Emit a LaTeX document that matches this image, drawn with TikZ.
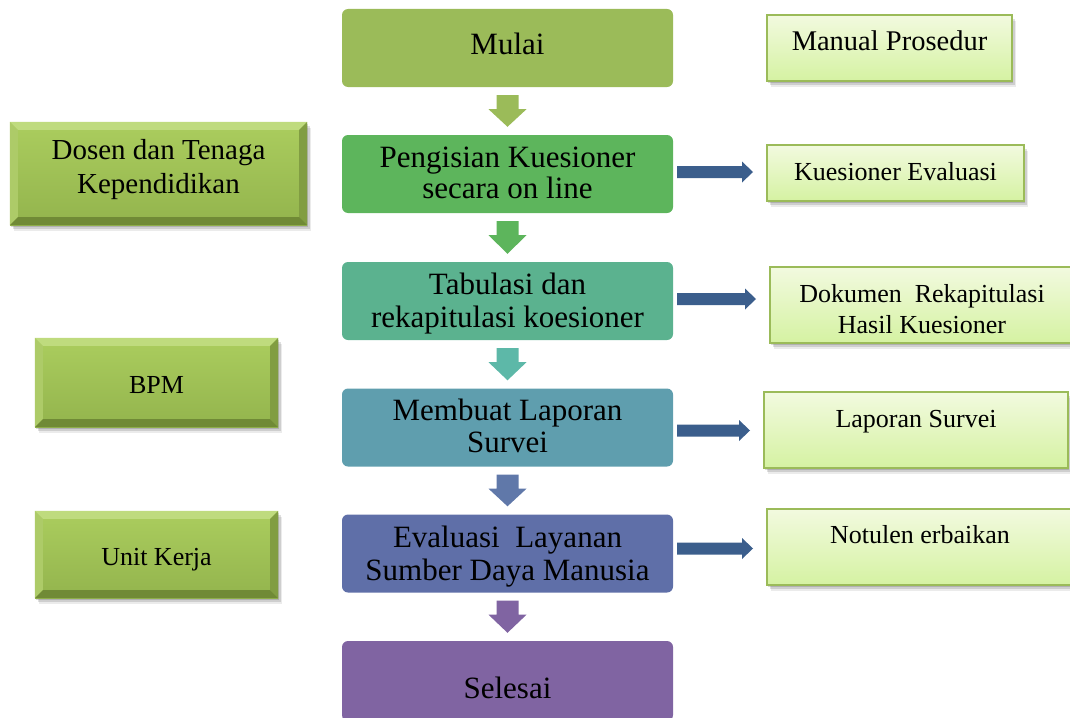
\documentclass[tikz,border=0pt]{standalone}
\usepackage{fontspec}
\setmainfont{Liberation Serif}
\usetikzlibrary{calc,shadows}

\definecolor{cMulai}{HTML}{9BBB59}
\definecolor{cPeng}{HTML}{5DB55C}
\definecolor{cTab}{HTML}{5BB28F}
\definecolor{cMem}{HTML}{5F9EAE}
\definecolor{cEva}{HTML}{5F6FA8}
\definecolor{cSel}{HTML}{8064A2}
\definecolor{cArrTab}{HTML}{5DB8A8}
\definecolor{cArrMem}{HTML}{6078A9}
\definecolor{arrBlue}{HTML}{3B5E8C}
\definecolor{docTop}{HTML}{F2FADF}
\definecolor{docBot}{HTML}{D5F2A2}
\definecolor{docLine}{HTML}{9BBB59}
\definecolor{bevTop}{HTML}{BFDB7E}
\definecolor{bevLeft}{HTML}{ADCB68}
\definecolor{bevRight}{HTML}{819D42}
\definecolor{bevBot}{HTML}{708A36}
\definecolor{faceTop}{HTML}{ABCD5E}
\definecolor{faceBot}{HTML}{93B44D}

\newcommand\myfs[1]{\fontsize{#1}{#1}\selectfont}

% down block arrow: colour, from node, to node
\newcommand\downblock[3]{%
  \fill[#1] let \p1=(#2.south), \p2=(#3.north) in
    (\x1-11pt,\y1-8pt) -- (\x1+11pt,\y1-8pt) -- (\x1+11pt,\y1-22pt) --
    (\x1+19pt,\y1-22pt) -- (\x1,\y2+8pt) -- (\x1-19pt,\y1-22pt) --
    (\x1-11pt,\y1-22pt) -- cycle;}
% right block arrow: from node, to node, vertical offset
\newcommand\rightblock[3]{%
  \fill[arrBlue] let \p1=($(#1.east)+(4,#3)$), \p2=(#2.west) in
    (\x1,\y1+6pt) -- (\x2-24pt,\y1+6pt) -- (\x2-24pt,\y1+10.5pt) --
    (\x2-13pt,\y1) -- (\x2-24pt,\y1-10.5pt) -- (\x2-24pt,\y1-6pt) --
    (\x1,\y1-6pt) -- cycle;}
% bevel edges of a left box
\newcommand\bevelize[1]{%
  \fill[bevTop] (#1.north west) -- (#1.north east) -- ($(#1.north east)+(-8,8)$) -- ($(#1.north west)+(8,8)$) -- cycle;
  \fill[bevLeft] (#1.north west) -- ($(#1.north west)+(8,8)$) -- ($(#1.south west)+(8,-8)$) -- (#1.south west) -- cycle;
  \fill[bevRight] (#1.north east) -- ($(#1.north east)+(-8,8)$) -- ($(#1.south east)+(-8,-8)$) -- (#1.south east) -- cycle;
  \fill[bevBot] (#1.south west) -- ($(#1.south west)+(8,-8)$) -- ($(#1.south east)+(-8,-8)$) -- (#1.south east) -- cycle;}

\begin{document}
\begin{tikzpicture}[x=1pt,y=-1pt,
  softshadow/.style={
    drop shadow={shadow xshift=1pt, shadow yshift=-2pt, fill=black, opacity=0.15},
    drop shadow={shadow xshift=2.5pt, shadow yshift=-4pt, fill=black, opacity=0.12},
    drop shadow={shadow xshift=4pt, shadow yshift=-6pt, fill=black, opacity=0.08}},
  proc/.style={rounded corners=6pt, inner sep=0pt, minimum width=331, minimum height=78},
  doc/.style={draw=docLine, line width=2pt, inner sep=0pt, top color=docTop, bottom color=docBot, softshadow},
  bev/.style={inner sep=0pt, top color=faceTop, bottom color=faceBot, softshadow},
  ctxt/.style={anchor=base, inner sep=0pt, font=\myfs{31}},
  rtxt/.style={anchor=base, inner sep=0pt, font=\myfs{26}}
]
\useasboundingbox (0,0) rectangle (1070,717);
\clip (0,0) rectangle (1070,717);

% central process boxes
\node[proc, fill=cMulai] (mulai) at (507.5,48) {};
\node[proc, fill=cPeng]  (peng)  at (507.5,174) {};
\node[proc, fill=cTab]   (tab)   at (507.5,301) {};
\node[proc, fill=cMem]   (mem)   at (507.5,427.5) {};
\node[proc, fill=cEva]   (eva)   at (507.5,553.5) {};
\node[proc, fill=cSel, minimum height=80] (sel) at (507.5,681) {};

\node[ctxt] (tmulai) at (507.5,55) {Mulai};
\node[ctxt] (tpeng1) at (507.5,167) {Pengisian Kuesioner};
\node[ctxt] (tpeng2) at (507.5,198) {secara on line};
\node[ctxt] (ttab1)  at (507.5,294) {Tabulasi dan};
\node[ctxt] (ttab2)  at (507.5,327) {rekapitulasi koesioner};
\node[ctxt] (tmem1)  at (507.5,420) {Membuat Laporan};
\node[ctxt] (tmem2)  at (507.5,452) {Survei};
\node[ctxt] (teva1)  at (507.5,547) {Evaluasi\ \ Layanan};
\node[ctxt] (teva2)  at (507.5,580) {Sumber Daya Manusia};
\node[ctxt] (tsel)   at (507.5,698) {Selesai};

% down arrows
\downblock{cMulai}{mulai}{peng}
\downblock{cPeng}{peng}{tab}
\downblock{cArrTab}{tab}{mem}
\downblock{cArrMem}{mem}{eva}
\downblock{cSel}{eva}{sel}

% right document boxes
\node[doc, minimum width=245, minimum height=66] (manual) at (889.5,48) {};
\node[doc, minimum width=257, minimum height=56] (kues) at (895.5,173) {};
\node[doc, minimum width=304, minimum height=76] (dok) at (922,305) {};
\node[doc, minimum width=304, minimum height=76] (lap) at (916,430) {};
\node[doc, minimum width=306, minimum height=76] (not) at (920,547) {};

\node[anchor=base, inner sep=0pt, font=\myfs{28.5}] (tmanual) at (889.5,51) {Manual Prosedur};
\node[rtxt] (tkues) at (895.5,180) {Kuesioner Evaluasi};
\node[rtxt] (tdok1) at (922,302) {Dokumen\ \ Rekapitulasi};
\node[rtxt] (tdok2) at (922,333) {Hasil Kuesioner};
\node[rtxt] (tlap)  at (916,427) {Laporan Survei};
\node[rtxt] (tnot)  at (920,543) {Notulen erbaikan};

% right arrows
\rightblock{peng}{kues}{-2}
\rightblock{tab}{dok}{-2}
\rightblock{mem}{lap}{3}
\rightblock{eva}{not}{-5}

% left bevel boxes
\node[bev, minimum width=297, minimum height=103] (dosen) at (158.5,173.5) {};
\bevelize{dosen}
\node[bev, minimum width=243, minimum height=89] (bpm) at (156.5,382.5) {};
\bevelize{bpm}
\node[bev, minimum width=243, minimum height=87] (unit) at (156.5,554.5) {};
\bevelize{unit}

\node[anchor=base, inner sep=0pt, font=\myfs{29}] (tdosen1) at (158.5,159) {Dosen dan Tenaga};
\node[anchor=base, inner sep=0pt, font=\myfs{29}] (tdosen2) at (158.5,193) {Kependidikan};
\node[rtxt] (tbpm)  at (156.5,393) {BPM};
\node[rtxt] (tunit) at (156.5,565) {Unit Kerja};
\end{tikzpicture}
\end{document}
